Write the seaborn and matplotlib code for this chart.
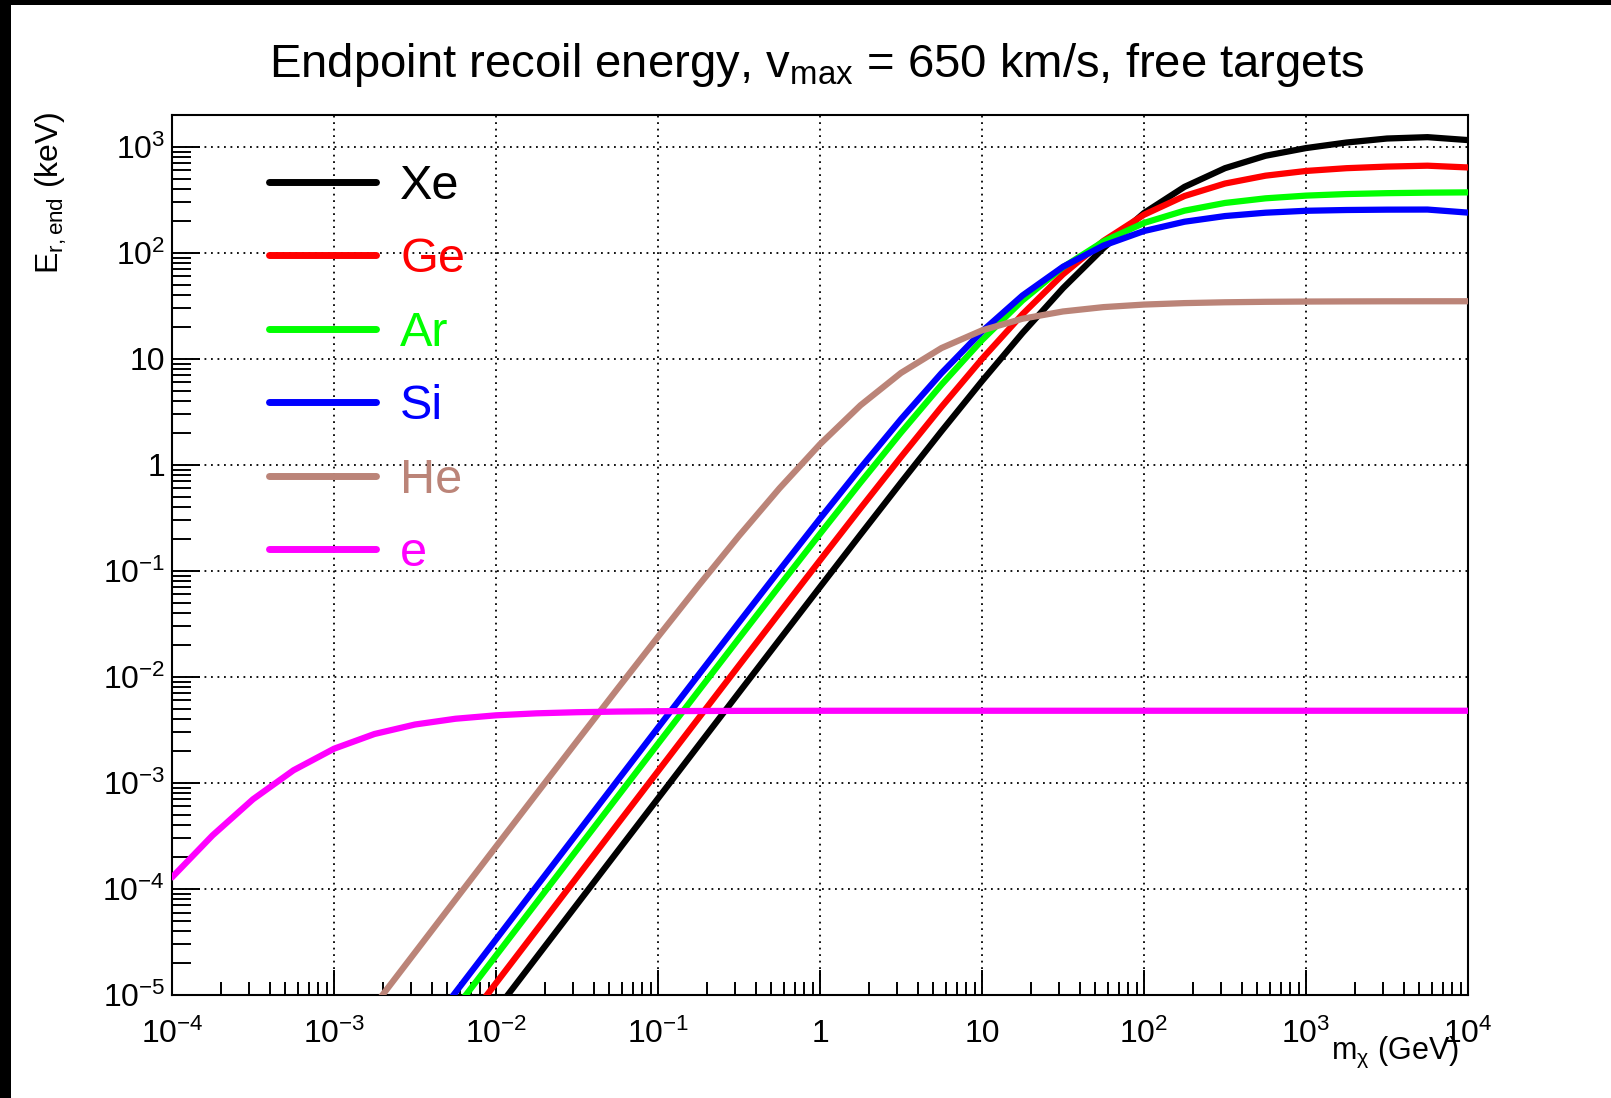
import matplotlib
matplotlib.use("Agg")
import matplotlib.pyplot as plt
import seaborn as sns
import pandas as pd
import numpy as np
from matplotlib.lines import Line2D
from matplotlib.patches import Rectangle
from matplotlib.ticker import LogLocator, NullFormatter, FixedLocator

# ---------------- data ----------------
m_chi = [1e-4, 1.778e-4, 3.162e-4, 5.623e-4,
         1e-3, 1.778e-3, 3.162e-3, 5.623e-3,
         1e-2, 1.778e-2, 3.162e-2, 5.623e-2,
         0.1, 0.1778, 0.3162, 0.5623,
         1.0, 1.778, 3.162, 5.623,
         10.0, 17.78, 31.62, 56.23,
         100.0, 177.8, 316.2, 562.3,
         1000.0, 1778.0, 3162.0, 5623.0,
         10000.0]

E_Xe = [7.16e-10, 2.264e-9, 7.16e-9, 2.264e-8,
        7.16e-8, 2.264e-7, 7.16e-7, 2.264e-6,
        7.16e-6, 2.264e-5, 7.159e-5, 2.264e-4,
        7.148e-4, 2.258e-3, 7.125e-3, 2.245e-2,
        7.051e-2, 0.2204, 0.6826, 2.082,
        6.181, 17.56, 46.50, 111.0,
        238.0, 420.0, 630.0, 825.0,
        975.0, 1100.0, 1200.0, 1236.0,
        1160.0]

E_Ge = [1.295e-9, 4.094e-9, 1.295e-8, 4.094e-8,
        1.295e-7, 4.094e-7, 1.295e-6, 4.094e-6,
        1.294e-5, 4.092e-5, 1.294e-4, 4.088e-4,
        1.291e-3, 4.074e-3, 1.284e-2, 4.031e-2,
        0.1260, 0.3901, 1.189, 3.527,
        10.00, 26.42, 62.83, 130.0,
        229.1, 344.1, 451.3, 535.3,
        593.2, 629.9, 652.1, 665.1,
        640.0]

E_Ar = [2.353e-9, 7.440e-9, 2.353e-8, 7.440e-8,
        2.353e-7, 7.440e-7, 2.353e-6, 7.440e-6,
        2.352e-5, 7.433e-5, 2.349e-4, 7.419e-4,
        2.341e-3, 7.374e-3, 2.316e-2, 7.235e-2,
        0.2240, 0.6820, 2.021, 5.717,
        15.05, 35.63, 73.31, 128.3,
        191.7, 250.4, 296.0, 327.3,
        347.2, 359.2, 366.2, 370.2,
        372.5]

E_Si = [3.346e-9, 1.058e-8, 3.346e-8, 1.058e-7,
        3.346e-7, 1.058e-6, 3.346e-6, 1.058e-5,
        3.344e-5, 1.057e-4, 3.339e-4, 1.054e-3,
        3.323e-3, 1.045e-2, 3.272e-2, 0.1017,
        0.3120, 0.9360, 2.703, 7.346,
        18.20, 39.67, 74.03, 117.4,
        160.9, 196.9, 222.7, 239.5,
        249.8, 254.0, 256.0, 256.5,
        240.0]

E_He = [2.522e-8, 7.974e-8, 2.522e-7, 7.971e-7,
        2.520e-6, 7.966e-6, 2.517e-5, 7.950e-5,
        2.508e-4, 7.898e-4, 2.479e-3, 7.739e-3,
        2.392e-2, 7.265e-2, 0.2143, 0.6021,
        1.568, 3.654, 7.380, 12.67,
        18.59, 23.95, 28.04, 30.82,
        32.57, 33.62, 34.23, 34.58,
        34.78, 34.89, 34.96, 34.99,
        35.01]

E_e = [1.287e-4, 3.20e-4, 7.02e-4, 1.318e-3,
       2.104e-3, 2.898e-3, 3.560e-3, 4.036e-3,
       4.347e-3, 4.539e-3, 4.651e-3, 4.717e-3,
       4.754e-3, 4.775e-3, 4.787e-3, 4.794e-3,
       4.798e-3, 4.80e-3, 4.80e-3, 4.80e-3,
       4.80e-3, 4.80e-3, 4.80e-3, 4.80e-3,
       4.80e-3, 4.80e-3, 4.80e-3, 4.80e-3,
       4.80e-3, 4.80e-3, 4.80e-3, 4.80e-3,
       4.80e-3]

targets = ["Xe", "Ge", "Ar", "Si", "He", "e"]
series = [E_Xe, E_Ge, E_Ar, E_Si, E_He, E_e]
colors = ["#000000", "#ff0000", "#00ff00", "#0000ff", "#bb8478", "#ff00ff"]

x_ticks = [1e-4, 1e-3, 1e-2, 1e-1, 1, 10, 100, 1e3, 1e4]
x_tick_labels = [r"$\mathregular{10^{-4}}$", r"$\mathregular{10^{-3}}$",
                 r"$\mathregular{10^{-2}}$", r"$\mathregular{10^{-1}}$",
                 "1", "10", r"$\mathregular{10^{2}}$",
                 r"$\mathregular{10^{3}}$", r"$\mathregular{10^{4}}$"]
y_ticks = [1e-5, 1e-4, 1e-3, 1e-2, 1e-1, 1, 10, 100, 1e3]
y_tick_labels = [r"$\mathregular{10^{-5}}$", r"$\mathregular{10^{-4}}$",
                 r"$\mathregular{10^{-3}}$", r"$\mathregular{10^{-2}}$",
                 r"$\mathregular{10^{-1}}$", "1", "10",
                 r"$\mathregular{10^{2}}$", r"$\mathregular{10^{3}}$"]

title = r"Endpoint recoil energy, $\mathregular{v_{max}}$ = 650 km/s, free targets"
xlabel = r"$\mathregular{m_{χ}}$ (GeV)"
ylabel = r"$\mathregular{E_{r,end}}$ (keV)"

# ---------------- style ----------------
sns.set_theme(style="white")
plt.rcParams["font.family"] = ["Liberation Sans", "DejaVu Sans"]
plt.rcParams["mathtext.fontset"] = "custom"
plt.rcParams["mathtext.rm"] = "Liberation Sans"
plt.rcParams["mathtext.it"] = "Liberation Sans:italic"
plt.rcParams["mathtext.bf"] = "Liberation Sans:bold"
plt.rcParams["mathtext.sf"] = "Liberation Sans"
plt.rcParams["axes.unicode_minus"] = True
plt.rcParams["text.color"] = "black"
plt.rcParams["axes.labelcolor"] = "black"
plt.rcParams["xtick.color"] = "black"
plt.rcParams["ytick.color"] = "black"

W, H = 1611, 1098
fig = plt.figure(figsize=(W / 100, H / 100), dpi=100, facecolor="white")

L, R, T, B = 172, 1468, 115, 995
ax = fig.add_axes([L / W, 1 - B / H, (R - L) / W, (B - T) / H])
ax.set_facecolor("white")
ax.set_xscale("log")
ax.set_yscale("log")

df = pd.concat(
    [pd.DataFrame({"m": m_chi, "E": s, "target": t}) for t, s in zip(targets, series)],
    ignore_index=True,
)
sns.lineplot(data=df, x="m", y="E", hue="target", hue_order=targets,
             palette=colors, linewidth=4.5, sort=False, estimator=None,
             legend=False, ax=ax, zorder=3)

ax.set_xlim(1e-4, 1e4)
ax.set_ylim(1e-5, 2e3)

ax.xaxis.set_major_locator(FixedLocator(x_ticks))
ax.set_xticklabels(x_tick_labels)
ax.yaxis.set_major_locator(FixedLocator(y_ticks))
ax.set_yticklabels(y_tick_labels)
ax.xaxis.set_minor_locator(LogLocator(base=10, subs=np.arange(2, 10), numticks=100))
ax.yaxis.set_minor_locator(LogLocator(base=10, subs=np.arange(2, 10), numticks=100))
ax.xaxis.set_minor_formatter(NullFormatter())
ax.yaxis.set_minor_formatter(NullFormatter())

ax.tick_params(axis="x", which="major", direction="in", length=18, width=1.4,
               labelsize=23, pad=17, colors="black", bottom=True, top=False)
ax.tick_params(axis="x", which="minor", direction="in", length=9.5, width=1.4,
               bottom=True, top=False)
ax.tick_params(axis="y", which="major", direction="in", length=20, width=1.4,
               labelsize=23, pad=5, colors="black", left=True, right=False)
ax.tick_params(axis="y", which="minor", direction="in", length=13.5, width=1.4,
               left=True, right=False)

for sp in ax.spines.values():
    sp.set_color("black")
    sp.set_linewidth(1.5)
    sp.set_visible(True)

ax.grid(True, which="major", color="black", linestyle=(0, (1, 2.6)), linewidth=1.3)
ax.set_axisbelow(True)
ax.set_xlabel("")
ax.set_ylabel("")

# legend
handles = [Line2D([0], [0], color=c, lw=5) for c in colors]
leg = fig.legend(handles, targets, loc="upper left",
                 bbox_to_anchor=(269 / W, 1 - 164 / H),
                 bbox_transform=fig.transFigure, frameon=False,
                 fontsize=35, handlelength=2.2, handletextpad=0.5,
                 labelspacing=0.585, borderpad=0, borderaxespad=0)
for txt, c in zip(leg.get_texts(), colors):
    txt.set_color(c)

# titles / axis labels
fig.text(817 / W, 1 - 65 / H, title, ha="center", va="center", fontsize=34,
         color="black")
fig.text(1459 / W, 1 - 1052 / H, xlabel, ha="right", va="center", fontsize=22,
         color="black")
fig.text(51 / W, 1 - 111 / H, ylabel, ha="center", va="top", rotation=90,
         fontsize=23, color="black")

# black border bands of the screenshot
fig.patches.append(Rectangle((0, 0), 11 / W, 1, transform=fig.transFigure,
                             facecolor="black", edgecolor="none", zorder=10))
fig.patches.append(Rectangle((0, 1 - 5 / H), 1, 5 / H, transform=fig.transFigure,
                             facecolor="black", edgecolor="none", zorder=10))

fig.savefig("out.png", dpi=100, facecolor="white")
